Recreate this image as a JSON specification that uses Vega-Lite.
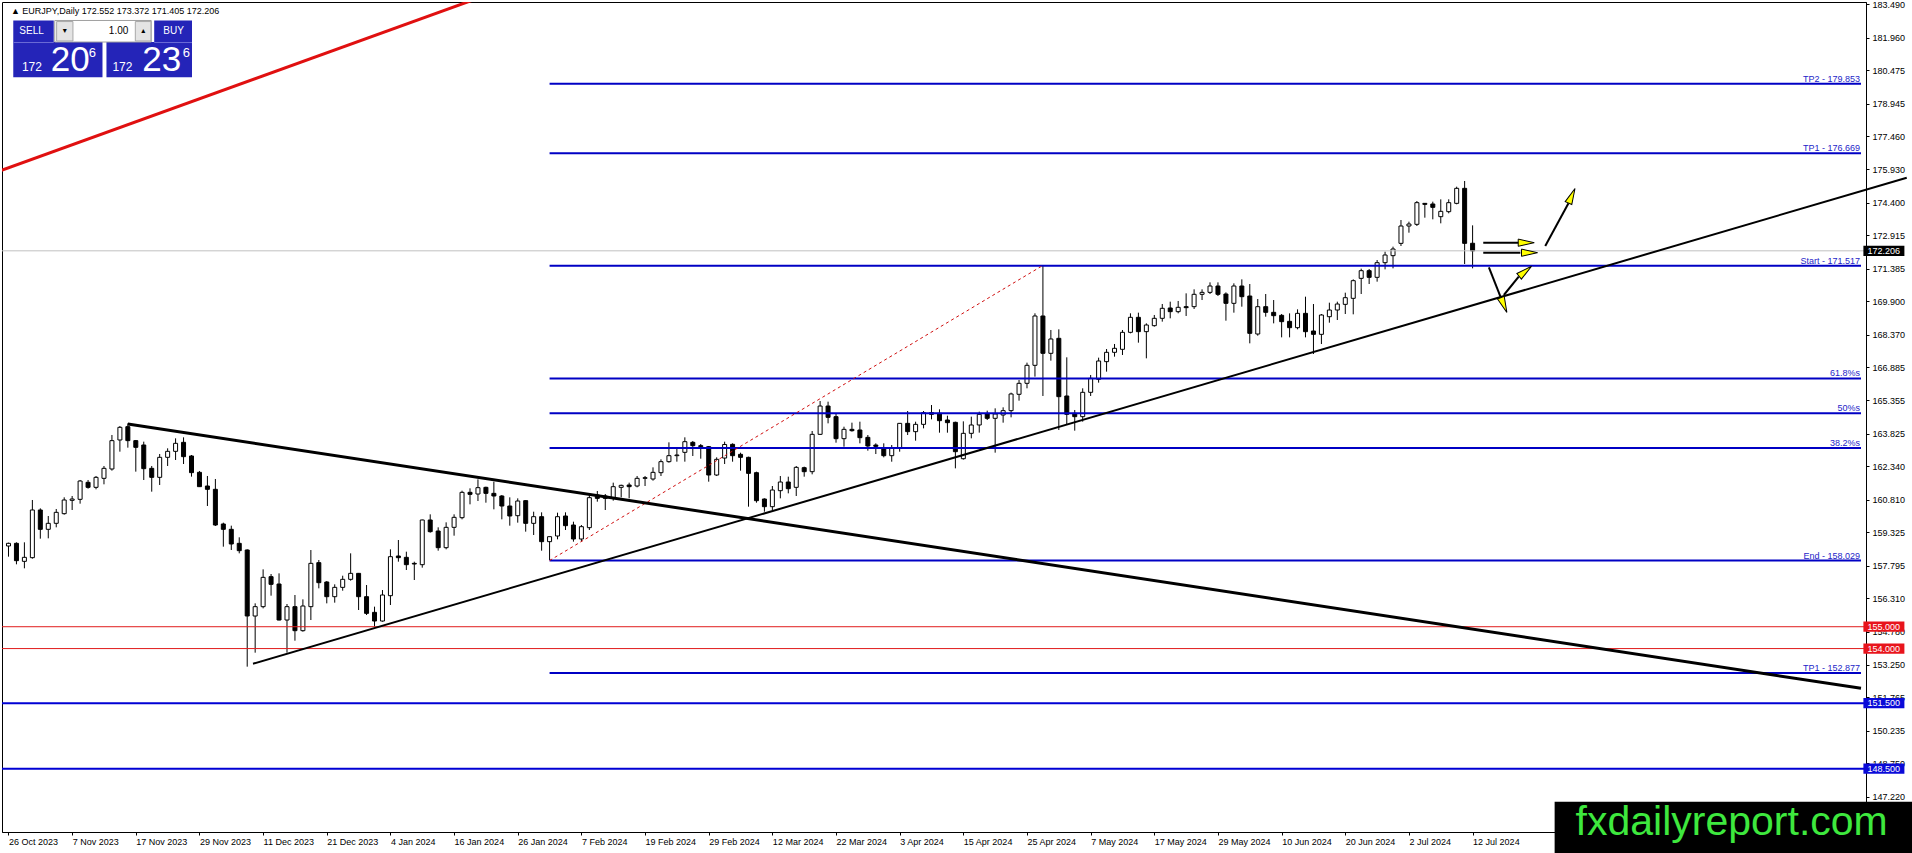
{
"$schema": "https://vega.github.io/schema/vega-lite/v6.json",
"width": 1864, "height": 830,
"autosize": {"type": "none"},
"padding": {"left": 2, "top": 2, "right": 46, "bottom": 21},
"background": "white",
"config": {"view": {"stroke": "#000000", "strokeWidth": 1}, "font": "Liberation Sans",
"axis": {"labelOverlap": false, "labelBound": false, "labelFlush": false, "grid": false, "title": null}},
"datasets": {
"candles": [
{"i":0,"o":158.695,"h":158.848,"l":158.207,"c":158.817},
{"i":1,"o":158.817,"h":158.863,"l":157.856,"c":158.024},
{"i":2,"o":157.993,"h":158.863,"l":157.673,"c":158.176},
{"i":3,"o":158.161,"h":160.801,"l":158.115,"c":160.343},
{"i":4,"o":160.343,"h":160.419,"l":159.031,"c":159.458},
{"i":5,"o":159.458,"h":160.068,"l":159.046,"c":159.733},
{"i":6,"o":159.733,"h":160.389,"l":159.549,"c":160.236},
{"i":7,"o":160.175,"h":160.923,"l":160.129,"c":160.801},
{"i":8,"o":160.785,"h":160.984,"l":160.343,"c":160.846},
{"i":9,"o":160.831,"h":161.716,"l":160.633,"c":161.670},
{"i":10,"o":161.609,"h":161.716,"l":161.319,"c":161.380},
{"i":11,"o":161.380,"h":161.899,"l":161.289,"c":161.838},
{"i":12,"o":161.792,"h":162.357,"l":161.518,"c":162.250},
{"i":13,"o":162.220,"h":163.776,"l":162.143,"c":163.517},
{"i":14,"o":163.547,"h":164.188,"l":163.013,"c":164.127},
{"i":15,"o":164.157,"h":164.310,"l":163.196,"c":163.517},
{"i":16,"o":163.517,"h":163.547,"l":162.098,"c":163.211},
{"i":17,"o":163.318,"h":163.471,"l":161.716,"c":162.235},
{"i":18,"o":162.250,"h":162.357,"l":161.182,"c":161.838},
{"i":19,"o":161.838,"h":162.906,"l":161.487,"c":162.754},
{"i":20,"o":162.754,"h":163.166,"l":162.357,"c":163.028},
{"i":21,"o":163.028,"h":163.623,"l":162.632,"c":163.394},
{"i":22,"o":163.440,"h":163.669,"l":162.448,"c":162.784},
{"i":23,"o":162.815,"h":162.860,"l":161.869,"c":162.052},
{"i":24,"o":162.067,"h":162.128,"l":161.400,"c":161.411},
{"i":25,"o":161.441,"h":161.899,"l":160.526,"c":161.289},
{"i":26,"o":161.289,"h":161.762,"l":159.610,"c":159.656},
{"i":27,"o":159.702,"h":159.763,"l":158.664,"c":159.458},
{"i":28,"o":159.458,"h":159.626,"l":158.512,"c":158.787},
{"i":29,"o":158.817,"h":159.092,"l":158.359,"c":158.481},
{"i":30,"o":158.512,"h":158.542,"l":153.172,"c":155.491},
{"i":31,"o":155.490,"h":156.070,"l":153.812,"c":155.918},
{"i":32,"o":155.918,"h":157.626,"l":155.841,"c":157.260},
{"i":33,"o":157.291,"h":157.413,"l":156.421,"c":156.940},
{"i":34,"o":156.955,"h":157.443,"l":155.290,"c":155.307},
{"i":35,"o":155.307,"h":156.040,"l":153.812,"c":155.918},
{"i":36,"o":155.918,"h":156.452,"l":154.361,"c":154.819},
{"i":37,"o":154.819,"h":156.253,"l":154.773,"c":155.948},
{"i":38,"o":155.918,"h":158.511,"l":155.307,"c":157.901},
{"i":39,"o":157.932,"h":158.054,"l":156.757,"c":157.016},
{"i":40,"o":157.047,"h":157.092,"l":156.070,"c":156.375},
{"i":41,"o":156.375,"h":156.940,"l":156.101,"c":156.802},
{"i":42,"o":156.802,"h":157.336,"l":156.650,"c":157.169},
{"i":43,"o":157.169,"h":158.359,"l":157.108,"c":157.443},
{"i":44,"o":157.443,"h":157.460,"l":155.765,"c":156.375},
{"i":45,"o":156.375,"h":156.909,"l":155.536,"c":155.612},
{"i":46,"o":155.658,"h":155.918,"l":155.002,"c":155.261},
{"i":47,"o":155.261,"h":156.680,"l":155.231,"c":156.452},
{"i":48,"o":156.421,"h":158.542,"l":155.994,"c":158.206},
{"i":49,"o":158.237,"h":158.969,"l":157.977,"c":158.160},
{"i":50,"o":158.176,"h":158.435,"l":157.596,"c":157.840},
{"i":51,"o":157.901,"h":157.977,"l":157.138,"c":157.870},
{"i":52,"o":157.840,"h":159.900,"l":157.703,"c":159.885},
{"i":53,"o":159.885,"h":160.144,"l":159.305,"c":159.351},
{"i":54,"o":159.381,"h":159.549,"l":158.481,"c":158.618},
{"i":55,"o":158.618,"h":159.778,"l":158.542,"c":159.549},
{"i":56,"o":159.549,"h":160.144,"l":159.167,"c":160.007},
{"i":57,"o":159.991,"h":161.227,"l":159.915,"c":161.151},
{"i":58,"o":161.151,"h":161.334,"l":160.602,"c":161.059},
{"i":59,"o":161.075,"h":161.746,"l":160.754,"c":161.365},
{"i":60,"o":161.380,"h":161.410,"l":160.678,"c":161.105},
{"i":61,"o":161.105,"h":161.639,"l":160.373,"c":160.983},
{"i":62,"o":160.983,"h":161.029,"l":159.915,"c":160.525},
{"i":63,"o":160.525,"h":160.922,"l":159.625,"c":160.068},
{"i":64,"o":160.083,"h":160.876,"l":159.763,"c":160.754},
{"i":65,"o":160.770,"h":160.785,"l":159.351,"c":159.732},
{"i":66,"o":159.732,"h":160.266,"l":159.198,"c":160.037},
{"i":67,"o":160.037,"h":160.236,"l":158.481,"c":158.893},
{"i":68,"o":158.893,"h":159.122,"l":158.054,"c":159.122},
{"i":69,"o":159.152,"h":160.220,"l":159.000,"c":160.037},
{"i":70,"o":160.068,"h":160.236,"l":159.427,"c":159.625},
{"i":71,"o":159.656,"h":159.808,"l":158.893,"c":159.015},
{"i":72,"o":159.015,"h":159.656,"l":158.893,"c":159.579},
{"i":73,"o":159.534,"h":161.105,"l":159.427,"c":160.907},
{"i":74,"o":161.029,"h":161.212,"l":160.724,"c":160.876},
{"i":75,"o":160.983,"h":161.075,"l":160.342,"c":160.876},
{"i":76,"o":160.907,"h":161.594,"l":160.770,"c":161.410},
{"i":77,"o":161.380,"h":161.502,"l":160.922,"c":161.471},
{"i":78,"o":161.487,"h":161.594,"l":160.876,"c":161.410},
{"i":79,"o":161.441,"h":161.899,"l":161.380,"c":161.792},
{"i":80,"o":161.792,"h":161.899,"l":161.441,"c":161.822},
{"i":81,"o":161.761,"h":162.295,"l":161.685,"c":162.067},
{"i":82,"o":162.051,"h":162.662,"l":161.899,"c":162.555},
{"i":83,"o":162.555,"h":163.440,"l":162.509,"c":162.829},
{"i":84,"o":162.829,"h":163.165,"l":162.555,"c":162.860},
{"i":85,"o":162.982,"h":163.669,"l":162.555,"c":163.470},
{"i":86,"o":163.440,"h":163.501,"l":162.814,"c":163.287},
{"i":87,"o":163.287,"h":163.363,"l":162.692,"c":163.241},
{"i":88,"o":163.241,"h":163.272,"l":161.639,"c":161.944},
{"i":89,"o":161.944,"h":162.753,"l":161.899,"c":162.662},
{"i":90,"o":162.720,"h":163.470,"l":162.448,"c":163.340},
{"i":91,"o":163.348,"h":163.394,"l":162.554,"c":162.829},
{"i":92,"o":162.890,"h":162.966,"l":162.142,"c":162.753},
{"i":93,"o":162.753,"h":162.783,"l":160.495,"c":162.020},
{"i":94,"o":162.051,"h":162.097,"l":160.678,"c":160.769},
{"i":95,"o":160.846,"h":160.876,"l":160.266,"c":160.495},
{"i":96,"o":160.495,"h":161.441,"l":160.342,"c":161.257},
{"i":97,"o":161.227,"h":161.898,"l":160.876,"c":161.624},
{"i":98,"o":161.624,"h":161.868,"l":161.105,"c":161.318},
{"i":99,"o":161.380,"h":162.356,"l":160.983,"c":162.295},
{"i":100,"o":162.280,"h":162.326,"l":161.868,"c":162.097},
{"i":101,"o":162.097,"h":163.958,"l":161.975,"c":163.806},
{"i":102,"o":163.806,"h":165.331,"l":163.775,"c":165.102},
{"i":103,"o":165.102,"h":165.301,"l":164.309,"c":164.584},
{"i":104,"o":164.614,"h":164.767,"l":163.424,"c":163.607},
{"i":105,"o":163.607,"h":164.156,"l":163.241,"c":164.034},
{"i":106,"o":164.034,"h":164.340,"l":163.928,"c":163.973},
{"i":107,"o":164.004,"h":164.385,"l":163.394,"c":163.653},
{"i":108,"o":163.668,"h":163.775,"l":163.058,"c":163.272},
{"i":109,"o":163.317,"h":163.394,"l":162.905,"c":163.256},
{"i":110,"o":163.165,"h":163.394,"l":162.753,"c":162.829},
{"i":111,"o":162.829,"h":163.317,"l":162.554,"c":163.195},
{"i":112,"o":163.165,"h":164.320,"l":163.012,"c":164.309},
{"i":113,"o":164.309,"h":164.874,"l":163.775,"c":163.928},
{"i":114,"o":163.928,"h":164.385,"l":163.516,"c":164.263},
{"i":115,"o":164.263,"h":164.874,"l":164.080,"c":164.797},
{"i":116,"o":164.797,"h":165.148,"l":164.492,"c":164.721},
{"i":117,"o":164.767,"h":164.950,"l":163.882,"c":164.431},
{"i":118,"o":164.462,"h":164.660,"l":163.882,"c":164.340},
{"i":119,"o":164.355,"h":164.385,"l":162.249,"c":163.012},
{"i":120,"o":162.690,"h":164.400,"l":162.650,"c":163.852},
{"i":121,"o":163.852,"h":164.615,"l":163.623,"c":164.234},
{"i":122,"o":164.234,"h":164.844,"l":163.883,"c":164.722},
{"i":123,"o":164.737,"h":164.890,"l":164.462,"c":164.539},
{"i":124,"o":164.539,"h":164.996,"l":162.967,"c":164.737},
{"i":125,"o":164.691,"h":165.042,"l":164.340,"c":164.890},
{"i":126,"o":164.890,"h":165.714,"l":164.584,"c":165.653},
{"i":127,"o":165.638,"h":166.293,"l":165.347,"c":166.141},
{"i":128,"o":166.141,"h":167.087,"l":165.912,"c":166.965},
{"i":129,"o":166.965,"h":169.345,"l":166.446,"c":169.223},
{"i":130,"o":169.223,"h":171.517,"l":165.561,"c":167.514},
{"i":131,"o":167.514,"h":168.582,"l":167.178,"c":168.170},
{"i":132,"o":168.201,"h":168.613,"l":164.005,"c":165.530},
{"i":133,"o":165.561,"h":167.331,"l":164.234,"c":164.722},
{"i":134,"o":164.768,"h":164.920,"l":163.974,"c":164.615},
{"i":135,"o":164.615,"h":165.912,"l":164.386,"c":165.729},
{"i":136,"o":165.729,"h":166.522,"l":165.561,"c":166.370},
{"i":137,"o":166.324,"h":167.316,"l":166.171,"c":167.163},
{"i":138,"o":167.133,"h":167.712,"l":166.675,"c":167.560},
{"i":139,"o":167.560,"h":167.941,"l":167.361,"c":167.743},
{"i":140,"o":167.697,"h":168.582,"l":167.438,"c":168.475},
{"i":141,"o":168.475,"h":169.345,"l":168.429,"c":169.162},
{"i":142,"o":169.162,"h":169.375,"l":168.002,"c":168.506},
{"i":143,"o":168.506,"h":168.887,"l":167.285,"c":168.811},
{"i":144,"o":168.780,"h":169.269,"l":168.735,"c":169.116},
{"i":145,"o":169.116,"h":169.772,"l":168.964,"c":169.574},
{"i":146,"o":169.589,"h":169.879,"l":169.116,"c":169.421},
{"i":147,"o":169.421,"h":169.910,"l":169.345,"c":169.620},
{"i":148,"o":169.650,"h":170.260,"l":169.223,"c":169.604},
{"i":149,"o":169.650,"h":170.444,"l":169.543,"c":170.215},
{"i":150,"o":170.214,"h":170.443,"l":169.954,"c":170.305},
{"i":151,"o":170.305,"h":170.763,"l":170.229,"c":170.595},
{"i":152,"o":170.595,"h":170.763,"l":170.137,"c":170.214},
{"i":153,"o":170.229,"h":170.305,"l":169.008,"c":169.802},
{"i":154,"o":169.802,"h":170.717,"l":169.375,"c":170.595},
{"i":155,"o":170.595,"h":170.900,"l":169.649,"c":170.107},
{"i":156,"o":170.137,"h":170.687,"l":167.971,"c":168.429},
{"i":157,"o":168.398,"h":170.000,"l":168.322,"c":169.649},
{"i":158,"o":169.649,"h":170.229,"l":169.191,"c":169.390},
{"i":159,"o":169.390,"h":169.954,"l":168.886,"c":169.237},
{"i":160,"o":169.253,"h":169.314,"l":168.245,"c":168.963},
{"i":161,"o":168.978,"h":169.344,"l":168.245,"c":168.688},
{"i":162,"o":168.688,"h":169.527,"l":168.612,"c":169.344},
{"i":163,"o":169.344,"h":170.107,"l":168.245,"c":168.505},
{"i":164,"o":168.535,"h":169.771,"l":167.483,"c":168.383},
{"i":165,"o":168.383,"h":169.314,"l":167.940,"c":169.268},
{"i":166,"o":169.191,"h":169.832,"l":168.917,"c":169.497},
{"i":167,"o":169.497,"h":169.878,"l":169.039,"c":169.771},
{"i":168,"o":169.756,"h":170.290,"l":169.314,"c":170.061},
{"i":169,"o":170.031,"h":170.900,"l":169.299,"c":170.839},
{"i":170,"o":170.946,"h":171.389,"l":170.229,"c":171.297},
{"i":171,"o":171.297,"h":171.374,"l":170.687,"c":170.992},
{"i":172,"o":170.992,"h":171.785,"l":170.794,"c":171.663},
{"i":173,"o":171.663,"h":172.167,"l":171.358,"c":172.014},
{"i":174,"o":171.984,"h":172.396,"l":171.404,"c":172.289},
{"i":175,"o":172.548,"h":173.616,"l":172.426,"c":173.342},
{"i":176,"o":173.342,"h":173.540,"l":173.036,"c":173.433},
{"i":177,"o":173.418,"h":174.486,"l":173.342,"c":174.410},
{"i":178,"o":174.379,"h":174.390,"l":173.723,"c":174.333},
{"i":179,"o":174.349,"h":174.456,"l":173.647,"c":174.196},
{"i":180,"o":173.769,"h":174.562,"l":173.464,"c":174.013},
{"i":181,"o":173.998,"h":174.563,"l":173.922,"c":174.410},
{"i":182,"o":174.379,"h":175.142,"l":174.334,"c":175.066},
{"i":183,"o":175.066,"h":175.402,"l":171.602,"c":172.548},
{"i":184,"o":172.552,"h":173.372,"l":171.405,"c":172.206}
],
"fib": [
{"p":179.853,"label":"TP2 - 179.853"},
{"p":176.669,"label":"TP1 - 176.669"},
{"p":171.517,"label":"Start - 171.517"},
{"p":166.365,"label":"61.8%s"},
{"p":164.773,"label":"50%s"},
{"p":163.181,"label":"38.2%s"},
{"p":158.029,"label":"End - 158.029"},
{"p":152.877,"label":"TP1 - 152.877"}
],
"redlevels": [{"p":155.0},{"p":154.0}],
"bluelevels": [{"p":151.5},{"p":148.5}],
"current": [{"p":172.206}],
"tags": [
{"p":172.206,"label":"172.206","kind":"current"},
{"p":155.0,"label":"155.000","kind":"red"},
{"p":154.0,"label":"154.000","kind":"red"},
{"p":151.5,"label":"151.500","kind":"blue"},
{"p":148.5,"label":"148.500","kind":"blue"}
],
"downtrend": [{"x1":15,"y1":164.279,"x2":232.81,"y2":152.181}],
"uptrend": [{"x1":30.73,"y1":153.307,"x2":238.56,"y2":175.553}],
"redtrend": [{"x1":-1,"y1":175.876,"x2":60,"y2":183.9}],
"fibbase": [{"x1":68,"y1":158.029,"x2":129.9,"y2":171.517}],
"arrowlines": [
{"x1":185.34,"y1":172.578,"x2":189.8,"y2":172.578},
{"x1":185.34,"y1":172.12,"x2":190.0,"y2":172.12},
{"x1":193.13,"y1":172.427,"x2":196.05,"y2":174.381},
{"x1":186.05,"y1":171.452,"x2":187.5,"y2":170.106},
{"x1":187.93,"y1":170.184,"x2":189.8,"y2":171.021}
],
"arrowheads": [
{"x":190.74,"p":172.578,"deg":0},
{"x":191.15,"p":172.12,"deg":0},
{"x":196.46,"p":174.724,"deg":-66},
{"x":187.93,"p":169.726,"deg":68},
{"x":190.63,"p":171.269,"deg":-39}
]
},
"layer": [
{
"data": {"name": "candles"},
"mark": {"type": "rule", "color": "#000000", "strokeWidth": 1},
"encoding": {
"x": {"field": "i", "type": "quantitative", "scale": {"domain": [-0.1875, 232.8125], "nice": false, "zero": false},
"axis": {"orient": "bottom", "title": null, "grid": false, "tickCount": 100, "values": [0,8,16,24,32,40,48,56,64,72,80,88,96,104,112,120,128,136,144,152,160,168,176,184],
"labelExpr": "['26 Oct 2023','7 Nov 2023','17 Nov 2023','29 Nov 2023','11 Dec 2023','21 Dec 2023','4 Jan 2024','16 Jan 2024','26 Jan 2024','7 Feb 2024','19 Feb 2024','29 Feb 2024','12 Mar 2024','22 Mar 2024','3 Apr 2024','15 Apr 2024','25 Apr 2024','7 May 2024','17 May 2024','29 May 2024','10 Jun 2024','20 Jun 2024','2 Jul 2024','12 Jul 2024'][round(datum.value/8)]",
"labelAlign": "left", "labelOffset": 0, "labelPadding": 2, "tickSize": 3, "tickColor": "#000000", "domainColor": "#000000", "labelColor": "#000000", "labelFont": "Liberation Sans", "labelFontSize": 9, "labelOverlap": false, "labelBound": false, "labelFlush": false}},
"y": {"field": "l", "type": "quantitative", "scale": {"domain": [145.604, 183.595], "nice": false, "zero": false},
"axis": {"orient": "right", "title": null, "grid": false, "tickCount": 100, "values": [183.49,181.96,180.475,178.945,177.46,175.93,174.4,172.915,171.385,169.9,168.37,166.885,165.355,163.825,162.34,160.81,159.325,157.795,156.31,154.78,153.25,151.765,150.235,148.75,147.22],
"format": ".3f", "tickSize": 3, "labelPadding": 3, "tickColor": "#000000", "domainColor": "#000000", "labelColor": "#000000", "labelFont": "Liberation Sans", "labelFontSize": 9, "labelOverlap": false, "labelBound": false, "labelFlush": false, "labelBaseline": "middle"}},
"y2": {"field": "h"}
}
},
{
"data": {"name": "candles"},
"mark": {"type": "bar", "size": 4, "stroke": "#000000", "strokeWidth": 1},
"encoding": {
"x": {"field": "i", "type": "quantitative"},
"y": {"field": "o", "type": "quantitative"},
"y2": {"field": "c"},
"fill": {"condition": {"test": "datum.c < datum.o", "value": "#000000"}, "value": "#ffffff"}
}
},
{
"data": {"name": "current"},
"mark": {"type": "rule", "color": "#c0c0c0", "strokeWidth": 1},
"encoding": {"y": {"field": "p", "type": "quantitative"}}
},
{
"data": {"name": "redlevels"},
"mark": {"type": "rule", "color": "#e01b1b", "strokeWidth": 1},
"encoding": {"y": {"field": "p", "type": "quantitative"}}
},
{
"data": {"name": "bluelevels"},
"mark": {"type": "rule", "color": "#0000d4", "strokeWidth": 2},
"encoding": {"y": {"field": "p", "type": "quantitative"}}
},
{
"data": {"name": "fib"},
"mark": {"type": "rule", "color": "#0000c4", "strokeWidth": 2},
"encoding": {
"x": {"datum": 68, "type": "quantitative"},
"x2": {"datum": 232.8125},
"y": {"field": "p", "type": "quantitative"}
}
},
{
"data": {"name": "fib"},
"mark": {"type": "text", "align": "right", "baseline": "alphabetic", "dy": -2, "font": "Liberation Sans", "fontSize": 9, "color": "#2424c8"},
"encoding": {
"x": {"datum": 232.7, "type": "quantitative"},
"y": {"field": "p", "type": "quantitative"},
"text": {"field": "label"}
}
},
{
"data": {"name": "fibbase"},
"mark": {"type": "rule", "color": "#d01010", "strokeWidth": 1, "strokeDash": [3, 3]},
"encoding": {
"x": {"field": "x1", "type": "quantitative"}, "x2": {"field": "x2"},
"y": {"field": "y1", "type": "quantitative"}, "y2": {"field": "y2"}
}
},
{
"data": {"name": "downtrend"},
"mark": {"type": "rule", "color": "#000000", "strokeWidth": 3},
"encoding": {
"x": {"field": "x1", "type": "quantitative"}, "x2": {"field": "x2"},
"y": {"field": "y1", "type": "quantitative"}, "y2": {"field": "y2"}
}
},
{
"data": {"name": "uptrend"},
"mark": {"type": "rule", "color": "#000000", "strokeWidth": 2},
"encoding": {
"x": {"field": "x1", "type": "quantitative"}, "x2": {"field": "x2"},
"y": {"field": "y1", "type": "quantitative"}, "y2": {"field": "y2"}
}
},
{
"data": {"name": "redtrend"},
"mark": {"type": "rule", "color": "#e01010", "strokeWidth": 3, "clip": true},
"encoding": {
"x": {"field": "x1", "type": "quantitative"}, "x2": {"field": "x2"},
"y": {"field": "y1", "type": "quantitative"}, "y2": {"field": "y2"}
}
},
{
"data": {"name": "arrowlines"},
"mark": {"type": "rule", "color": "#000000", "strokeWidth": 2},
"encoding": {
"x": {"field": "x1", "type": "quantitative"}, "x2": {"field": "x2"},
"y": {"field": "y1", "type": "quantitative"}, "y2": {"field": "y2"}
}
},
{
"data": {"name": "arrowheads"},
"mark": {"type": "point", "shape": "M-1,-0.45L1,0L-1,0.45Z", "size": 256, "filled": true, "fill": "#ffff00", "stroke": "#000000", "strokeWidth": 1, "opacity": 1},
"encoding": {
"x": {"field": "x", "type": "quantitative"},
"y": {"field": "p", "type": "quantitative"},
"angle": {"field": "deg", "type": "quantitative", "scale": null}
}
},
{
"data": {"name": "tags"},
"mark": {"type": "point", "shape": "M-1,-0.25L1,-0.25L1,0.25L-1,0.25Z", "size": 1681, "filled": true, "opacity": 1, "strokeWidth": 0},
"encoding": {
"x": {"datum": 235.69, "type": "quantitative"},
"y": {"field": "p", "type": "quantitative"},
"fill": {"field": "kind", "type": "nominal", "scale": {"domain": ["current", "red", "blue"], "range": ["#000000", "#e8141c", "#0a0ad8"]}, "legend": null}
}
},
{
"data": {"name": "tags"},
"mark": {"type": "text", "align": "center", "baseline": "middle", "font": "Liberation Sans", "fontSize": 9, "color": "#ffffff"},
"encoding": {
"x": {"datum": 235.66, "type": "quantitative"},
"y": {"field": "p", "type": "quantitative"},
"text": {"field": "label"}
}
},
{
"data": {"values": [{}]},
"mark": {"type": "text", "text": "▲ EURJPY,Daily  172.552 173.372 171.405 172.206", "align": "left", "baseline": "middle", "font": "Liberation Sans", "fontSize": 9, "color": "#000000"},
"encoding": {"x": {"datum": 0.31, "type": "quantitative"}, "y": {"datum": 183.183, "type": "quantitative"}}
},
{
"data": {"values": [{}]},
"mark": {"type": "rect", "color": "#2424b8"},
"encoding": {"x": {"datum": 0.6, "type": "quantitative"}, "x2": {"datum": 5.6875}, "y": {"datum": 182.749, "type": "quantitative"}, "y2": {"datum": 181.764}}
},
{
"data": {"values": [{}]},
"mark": {"type": "rect", "color": "#2424b8"},
"encoding": {"x": {"datum": 0.6, "type": "quantitative"}, "x2": {"datum": 11.8125}, "y": {"datum": 181.764, "type": "quantitative"}, "y2": {"datum": 180.15}}
},
{
"data": {"values": [{}]},
"mark": {"type": "rect", "color": "#2424b8"},
"encoding": {"x": {"datum": 18.3125, "type": "quantitative"}, "x2": {"datum": 23.0625}, "y": {"datum": 182.749, "type": "quantitative"}, "y2": {"datum": 181.764}}
},
{
"data": {"values": [{}]},
"mark": {"type": "rect", "color": "#2424b8"},
"encoding": {"x": {"datum": 12.3125, "type": "quantitative"}, "x2": {"datum": 23.0625}, "y": {"datum": 181.764, "type": "quantitative"}, "y2": {"datum": 180.15}}
},
{
"data": {"values": [{}]},
"mark": {"type": "rule", "color": "#6b6bd6", "strokeWidth": 1},
"encoding": {"x": {"datum": 0.6, "type": "quantitative"}, "x2": {"datum": 5.6875}, "y": {"datum": 181.74, "type": "quantitative"}}
},
{
"data": {"values": [{}]},
"mark": {"type": "rule", "color": "#6b6bd6", "strokeWidth": 1},
"encoding": {"x": {"datum": 18.3125, "type": "quantitative"}, "x2": {"datum": 23.0625}, "y": {"datum": 181.74, "type": "quantitative"}}
},
{
"data": {"values": [{}]},
"mark": {"type": "rect", "color": "#ffffff", "stroke": "#a0a0a0", "strokeWidth": 1},
"encoding": {"x": {"datum": 5.8125, "type": "quantitative"}, "x2": {"datum": 17.9375}, "y": {"datum": 182.749, "type": "quantitative"}, "y2": {"datum": 181.764}}
},
{
"data": {"values": [{}]},
"mark": {"type": "rect", "color": "#e4e4e4", "stroke": "#a8a8a8", "strokeWidth": 1},
"encoding": {"x": {"datum": 6.05, "type": "quantitative"}, "x2": {"datum": 8.1}, "y": {"datum": 182.7, "type": "quantitative"}, "y2": {"datum": 181.81}}
},
{
"data": {"values": [{}]},
"mark": {"type": "rect", "color": "#e4e4e4", "stroke": "#a8a8a8", "strokeWidth": 1},
"encoding": {"x": {"datum": 15.94, "type": "quantitative"}, "x2": {"datum": 17.9}, "y": {"datum": 182.7, "type": "quantitative"}, "y2": {"datum": 181.81}}
},
{
"data": {"values": [{}]},
"mark": {"type": "text", "text": "▾", "align": "center", "baseline": "middle", "fontSize": 8, "color": "#000000", "font": "DejaVu Sans"},
"encoding": {"x": {"datum": 7.06, "type": "quantitative"}, "y": {"datum": 182.245, "type": "quantitative"}}
},
{
"data": {"values": [{}]},
"mark": {"type": "text", "text": "▴", "align": "center", "baseline": "middle", "fontSize": 8, "color": "#000000", "font": "DejaVu Sans"},
"encoding": {"x": {"datum": 16.94, "type": "quantitative"}, "y": {"datum": 182.245, "type": "quantitative"}}
},
{
"data": {"values": [{}]},
"mark": {"type": "text", "text": "1.00", "align": "right", "baseline": "middle", "fontSize": 10, "color": "#000000", "font": "Liberation Sans"},
"encoding": {"x": {"datum": 15.06, "type": "quantitative"}, "y": {"datum": 182.245, "type": "quantitative"}}
},
{
"data": {"values": [{}]},
"mark": {"type": "text", "text": "SELL", "align": "center", "baseline": "middle", "fontSize": 10, "color": "#ffffff", "font": "Liberation Sans"},
"encoding": {"x": {"datum": 2.9, "type": "quantitative"}, "y": {"datum": 182.245, "type": "quantitative"}}
},
{
"data": {"values": [{}]},
"mark": {"type": "text", "text": "BUY", "align": "center", "baseline": "middle", "fontSize": 10, "color": "#ffffff", "font": "Liberation Sans"},
"encoding": {"x": {"datum": 20.75, "type": "quantitative"}, "y": {"datum": 182.245, "type": "quantitative"}}
},
{
"data": {"values": [{}]},
"mark": {"type": "text", "text": "172", "align": "left", "baseline": "alphabetic", "fontSize": 12, "color": "#ffffff", "font": "Liberation Sans"},
"encoding": {"x": {"datum": 1.69, "type": "quantitative"}, "y": {"datum": 180.437, "type": "quantitative"}}
},
{
"data": {"values": [{}]},
"mark": {"type": "text", "text": "20", "align": "left", "baseline": "alphabetic", "fontSize": 35, "color": "#ffffff", "font": "Liberation Sans"},
"encoding": {"x": {"datum": 5.3, "type": "quantitative"}, "y": {"datum": 180.437, "type": "quantitative"}}
},
{
"data": {"values": [{}]},
"mark": {"type": "text", "text": "6", "align": "left", "baseline": "alphabetic", "fontSize": 13, "color": "#ffffff", "font": "Liberation Sans"},
"encoding": {"x": {"datum": 10.1, "type": "quantitative"}, "y": {"datum": 181.078, "type": "quantitative"}}
},
{
"data": {"values": [{}]},
"mark": {"type": "text", "text": "172", "align": "left", "baseline": "alphabetic", "fontSize": 12, "color": "#ffffff", "font": "Liberation Sans"},
"encoding": {"x": {"datum": 13.06, "type": "quantitative"}, "y": {"datum": 180.437, "type": "quantitative"}}
},
{
"data": {"values": [{}]},
"mark": {"type": "text", "text": "23", "align": "left", "baseline": "alphabetic", "fontSize": 35, "color": "#ffffff", "font": "Liberation Sans"},
"encoding": {"x": {"datum": 16.8, "type": "quantitative"}, "y": {"datum": 180.437, "type": "quantitative"}}
},
{
"data": {"values": [{}]},
"mark": {"type": "text", "text": "6", "align": "left", "baseline": "alphabetic", "fontSize": 13, "color": "#ffffff", "font": "Liberation Sans"},
"encoding": {"x": {"datum": 21.9, "type": "quantitative"}, "y": {"datum": 181.078, "type": "quantitative"}}
},
{
"data": {"values": [{}]},
"mark": {"type": "rect", "color": "#000000"},
"encoding": {"x": {"datum": 194.31, "type": "quantitative"}, "x2": {"datum": 240}, "y": {"datum": 146.991, "type": "quantitative"}, "y2": {"datum": 144.0}}
},
{
"data": {"values": [{}]},
"mark": {"type": "text", "text": "fxdailyreport.com", "align": "center", "baseline": "alphabetic", "fontSize": 41, "color": "#3ee83e", "font": "Liberation Sans"},
"encoding": {"x": {"datum": 216.56, "type": "quantitative"}, "y": {"datum": 145.466, "type": "quantitative"}}
}
]
}
